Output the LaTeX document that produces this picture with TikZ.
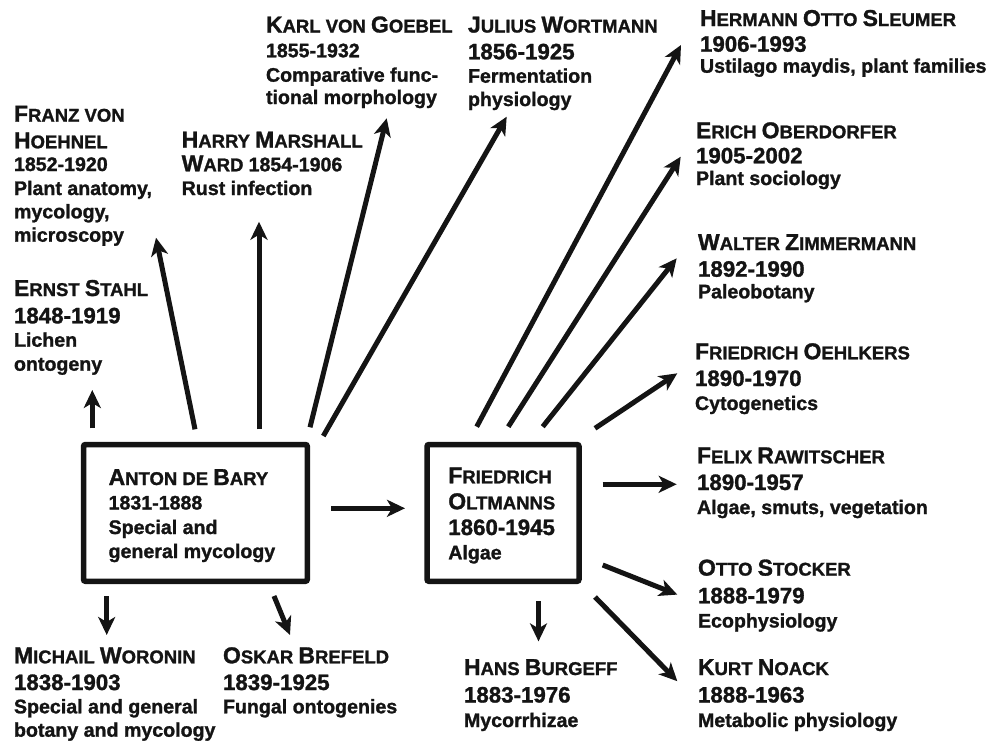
\documentclass[tikz,border=0pt]{standalone}
\usepackage{fontspec}
\setmainfont{Liberation Sans}[BoldFeatures={FakeBold=1.3}]
\usetikzlibrary{arrows.meta}

\definecolor{ink}{RGB}{20,20,20}

% small-caps imitation: large initials, smaller capitals
\newcommand\Bg[1]{{\fontsize{23}{23}\selectfont #1}}
\newcommand\Sm[1]{{\fontsize{18.5}{18.5}\selectfont #1}}
\newcommand\YrSmall[1]{{\fontsize{19.6}{19.6}\selectfont #1}}

\tikzset{
  ln/.style={anchor=base west, inner sep=0pt, outer sep=0pt, text=ink},
  nameln/.style={ln, font=\bfseries},
  yearln/.style={ln, font=\bfseries\fontsize{22.3}{22.3}\selectfont},
  descln/.style={ln, font=\bfseries\fontsize{19.6}{19.6}\selectfont},
  personbox/.style={draw=ink, line width=5.5pt, rounded corners=2pt, inner sep=0pt},
  arr/.style={draw=ink, line width=5pt, -{Stealth[length=18pt, width=17pt, inset=5pt]}},
}

\begin{document}
\begin{tikzpicture}[x=1pt, y=-1pt]
\useasboundingbox (0,0) rectangle (988,744);

% ---------- central boxes ----------
\node[personbox, minimum width=223.8pt, minimum height=136.8pt] (debary) at (195.4,512.9) {};
\node[personbox, minimum width=152pt, minimum height=136.8pt] (oltmanns) at (503,512.9) {};

\node[nameln] (debary-1) at (108.6,485) {\Bg{A}\Sm{NTON DE }\Bg{B}\Sm{ARY}};
\node[descln] (debary-2) at (108.6,509.5) {1831-1888};
\node[descln] (debary-3) at (108.6,534) {Special and};
\node[descln] (debary-4) at (108.6,558) {general mycology};

\node[nameln] (oltmanns-1) at (448.3,483.3) {\Bg{F}\Sm{RIEDRICH}};
\node[nameln] (oltmanns-2) at (448.3,509.3) {\Bg{O}\Sm{LTMANNS}};
\node[yearln] (oltmanns-3) at (448.3,535) {1860-1945};
\node[descln] (oltmanns-4) at (448.3,559.3) {Algae};

% ---------- students of de Bary ----------
\node[nameln] (hoehnel-1) at (14,121.7) {\Bg{F}\Sm{RANZ VON}};
\node[nameln] (hoehnel-2) at (14,148.3) {\Bg{H}\Sm{OEHNEL}};
\node[descln] (hoehnel-3) at (14,171) {1852-1920};
\node[descln] (hoehnel-4) at (14,195) {Plant anatomy,};
\node[descln] (hoehnel-5) at (14,218.3) {mycology,};
\node[descln] (hoehnel-6) at (14,241.7) {microscopy};

\node[nameln] (stahl-1) at (14,296) {\Bg{E}\Sm{RNST }\Bg{S}\Sm{TAHL}};
\node[yearln] (stahl-2) at (14,323.3) {1848-1919};
\node[descln] (stahl-3) at (14,346.7) {Lichen};
\node[descln] (stahl-4) at (14,370.7) {ontogeny};

\node[nameln] (ward-1) at (181.7,147.5) {\Bg{H}\Sm{ARRY }\Bg{M}\Sm{ARSHALL}};
\node[nameln] (ward-2) at (181.7,171.3) {\Bg{W}\Sm{ARD }\YrSmall{1854-1906}};
\node[descln] (ward-3) at (181.7,195) {Rust infection};

\node[nameln] (goebel-1) at (266,32.5) {\Bg{K}\Sm{ARL VON }\Bg{G}\Sm{OEBEL}};
\node[descln] (goebel-2) at (266,57.3) {1855-1932};
\node[descln] (goebel-3) at (266,81.7) {Comparative func-};
\node[descln] (goebel-4) at (266,104) {tional morphology};

\node[nameln] (wortmann-1) at (468,32.5) {\Bg{J}\Sm{ULIUS }\Bg{W}\Sm{ORTMANN}};
\node[yearln] (wortmann-2) at (468,59.3) {1856-1925};
\node[descln] (wortmann-3) at (468,82.7) {Fermentation};
\node[descln] (wortmann-4) at (468,106) {physiology};

\node[nameln] (woronin-1) at (14,663.3) {\Bg{M}\Sm{ICHAIL }\Bg{W}\Sm{ORONIN}};
\node[yearln] (woronin-2) at (14,690) {1838-1903};
\node[descln] (woronin-3) at (14,713.3) {Special and general};
\node[descln] (woronin-4) at (14,736.7) {botany and mycology};

\node[nameln] (brefeld-1) at (223,663.3) {\Bg{O}\Sm{SKAR }\Bg{B}\Sm{REFELD}};
\node[yearln] (brefeld-2) at (223,690) {1839-1925};
\node[descln] (brefeld-3) at (223,713.3) {Fungal ontogenies};

% ---------- students of Oltmanns ----------
\node[nameln] (sleumer-1) at (700,26) {\Bg{H}\Sm{ERMANN }\Bg{O}\Sm{TTO }\Bg{S}\Sm{LEUMER}};
\node[yearln] (sleumer-2) at (700,51.7) {1906-1993};
\node[descln] (sleumer-3) at (700,72.7) {Ustilago maydis, plant families};

\node[nameln] (oberdorfer-1) at (696,138.3) {\Bg{E}\Sm{RICH }\Bg{O}\Sm{BERDORFER}};
\node[yearln] (oberdorfer-2) at (696,163.3) {1905-2002};
\node[descln] (oberdorfer-3) at (696,185) {Plant sociology};

\node[nameln] (zimmermann-1) at (698,250) {\Bg{W}\Sm{ALTER }\Bg{Z}\Sm{IMMERMANN}};
\node[yearln] (zimmermann-2) at (698,276.7) {1892-1990};
\node[descln] (zimmermann-3) at (698,298.3) {Paleobotany};

\node[nameln] (oehlkers-1) at (695,359.3) {\Bg{F}\Sm{RIEDRICH }\Bg{O}\Sm{EHLKERS}};
\node[yearln] (oehlkers-2) at (695,386) {1890-1970};
\node[descln] (oehlkers-3) at (695,410) {Cytogenetics};

\node[nameln] (rawitscher-1) at (697,463.3) {\Bg{F}\Sm{ELIX }\Bg{R}\Sm{AWITSCHER}};
\node[yearln] (rawitscher-2) at (697,490) {1890-1957};
\node[descln] (rawitscher-3) at (697,514) {Algae, smuts, vegetation};

\node[nameln] (stocker-1) at (698,575.6) {\Bg{O}\Sm{TTO }\Bg{S}\Sm{TOCKER}};
\node[yearln] (stocker-2) at (698,603.3) {1888-1979};
\node[descln] (stocker-3) at (698,627.5) {Ecophysiology};

\node[nameln] (noack-1) at (698,675) {\Bg{K}\Sm{URT }\Bg{N}\Sm{OACK}};
\node[yearln] (noack-2) at (698,702.5) {1888-1963};
\node[descln] (noack-3) at (698,727) {Metabolic physiology};

\node[nameln] (burgeff-1) at (464,675) {\Bg{H}\Sm{ANS }\Bg{B}\Sm{URGEFF}};
\node[yearln] (burgeff-2) at (464,702.5) {1883-1976};
\node[descln] (burgeff-3) at (464,727) {Mycorrhizae};

% ---------- arrow end points ----------
\coordinate (a-stahl-s) at (92.3,428.3);   \coordinate (a-stahl-e) at (92.3,390);
\coordinate (a-hoehnel-s) at (195,429.3);  \coordinate (a-hoehnel-e) at (156,237.7);
\coordinate (a-ward-s) at (259,429.3);     \coordinate (a-ward-e) at (259,221.7);
\coordinate (a-goebel-s) at (310,427.3);   \coordinate (a-goebel-e) at (386.7,118.3);
\coordinate (a-wortmann-s) at (323.3,436); \coordinate (a-wortmann-e) at (506.7,116.7);
\coordinate (a-woronin-s) at (106.7,596);  \coordinate (a-woronin-e) at (106.7,635);
\coordinate (a-brefeld-s) at (274,596);    \coordinate (a-brefeld-e) at (290,635);
\coordinate (a-link-s) at (331,508.3);     \coordinate (a-link-e) at (405,508.3);
\coordinate (a-sleumer-s) at (476.7,426.7);    \coordinate (a-sleumer-e) at (681,45);
\coordinate (a-oberdorfer-s) at (508.3,426.7); \coordinate (a-oberdorfer-e) at (680.7,156.7);
\coordinate (a-zimmermann-s) at (542.7,426.7); \coordinate (a-zimmermann-e) at (676.7,258.3);
\coordinate (a-oehlkers-s) at (595,428.3);     \coordinate (a-oehlkers-e) at (677.3,373.3);
\coordinate (a-rawitscher-s) at (602.7,484.3); \coordinate (a-rawitscher-e) at (676.7,484.3);
\coordinate (a-stocker-s) at (602.7,565);      \coordinate (a-stocker-e) at (677.3,594.6);
\coordinate (a-noack-s) at (595,597);          \coordinate (a-noack-e) at (677.3,681.2);
\coordinate (a-burgeff-s) at (538.5,601);      \coordinate (a-burgeff-e) at (538.5,641.4);

% ---------- arrows ----------
\foreach \who in {stahl,hoehnel,ward,goebel,wortmann,woronin,brefeld,link,
                  sleumer,oberdorfer,zimmermann,oehlkers,rawitscher,stocker,noack,burgeff}
  \draw[arr] (a-\who-s) -- (a-\who-e);
\end{tikzpicture}
\end{document}
